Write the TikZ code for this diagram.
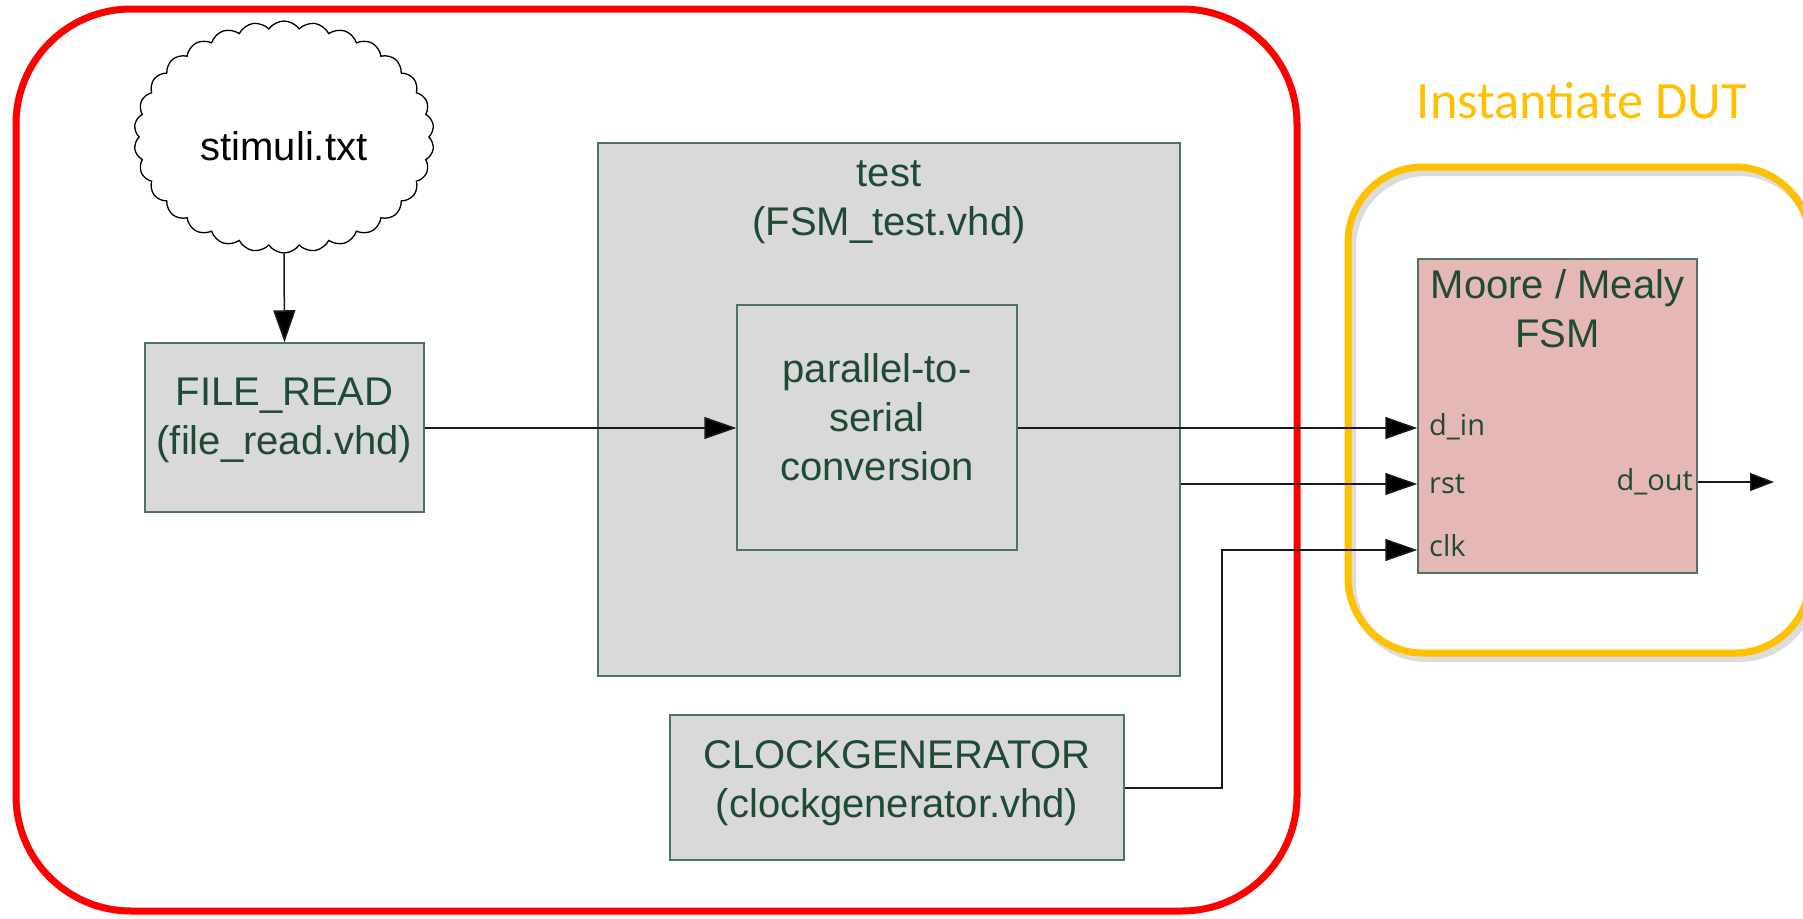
\documentclass[tikz,border=0pt]{standalone}
\usepackage{fontspec}
\setmainfont{Liberation Sans}
\newfontfamily\calfont{Carlito}
\newfontfamily\portfont{Open Sans}
\usetikzlibrary{shapes.symbols,arrows.meta}
\definecolor{txtgreen}{HTML}{1F4A36}
\definecolor{boxedge}{HTML}{4E7360}
\definecolor{boxfill}{HTML}{D9D9D9}
\definecolor{fsmfill}{HTML}{E5B8B5}
\definecolor{dutyellow}{HTML}{FFC000}
\definecolor{wire}{HTML}{1A1A1A}
\tikzset{
  x=1pt, y=1pt,
  blk/.style={draw=boxedge, line width=1.5pt, fill=boxfill, inner sep=0pt, text=txtgreen,
    align=center, font=\fontsize{40}{49}\selectfont},
  lbl/.style={inner sep=0pt, text=txtgreen, align=center, font=\fontsize{40}{49}\selectfont},
  port/.style={inner sep=0pt, text=txtgreen, font=\portfont\fontsize{29}{32}\selectfont},
  conn/.style={draw=wire, line width=1.5pt, -{Triangle[length=32pt,width=22pt,fill=black]}},
  plainconn/.style={draw=wire, line width=1.5pt},
}
\begin{document}
\begin{tikzpicture}
\useasboundingbox (0,0) rectangle (1803,-918);
% outer frames
\draw[red, line width=7pt, rounded corners=115pt] (16,-9) rectangle (1297,-911);
\draw[black!45, opacity=0.3, line width=8pt, rounded corners=75pt] (1352,-172) rectangle (1814,-658);
\draw[dutyellow, line width=7pt, rounded corners=75pt] (1348,-167) rectangle (1810,-653);
\node[inner sep=0pt, text=dutyellow, font=\calfont\fontsize{52.5}{60}\selectfont] (dut) at (1582,-101) {Instantiate DUT};

% cloud
\node[cloud, cloud puffs=30, cloud puff arc=110, aspect=1.4, draw=black, line width=1.3pt, fill=white,
  minimum width=300pt, minimum height=232pt, inner sep=0pt] (cloud) at (284,-137) {};
\node[inner sep=0pt, font=\fontsize{40}{49}\selectfont] (cloudlbl) at (284,-146) {stimuli.txt};

% blocks
\node[blk, minimum width=279pt, minimum height=169pt] (fr) at (284.5,-427.5) {};
\node[lbl] (frlbl) at (284.5,-420) {FILE\_READ\\(file\_read.vhd)};
\node[blk, minimum width=582pt, minimum height=533pt] (test) at (889,-409.5) {};
\node[lbl] (testlbl) at (889,-202) {test\\(FSM\_test.vhd)};
\node[blk, minimum width=280pt, minimum height=245pt] (pts) at (877,-427.5) {};
\node[lbl] (ptslbl) at (877,-417) {parallel-to-\\serial\\conversion};
\node[blk, minimum width=454pt, minimum height=145pt] (clock) at (897,-787.5) {};
\node[lbl] (clocklbl) at (897,-783) {CLOCKGENERATOR\\(clockgenerator.vhd)};
\node[blk, fill=fsmfill, minimum width=279pt, minimum height=314pt] (fsm) at (1557.5,-416) {};
\node[lbl] (fsmlbl) at (1557.5,-309) {Moore / Mealy\\FSM};

% ports
\node[port, anchor=west] (pdin) at (1429,-427) {d\_in};
\node[port, anchor=west] (prst) at (1429,-484) {rst};
\node[port, anchor=west] (pclk) at (1429,-546) {clk};
\node[port, anchor=east] (pdout) at (1693,-482) {d\_out};

% connector end points
\coordinate (ptsin) at (pts.west |- 0,-428);
\coordinate (frout) at (fr.east |- 0,-428);
\coordinate (dinend) at (fsm.west |- 0,-428);
\coordinate (ptsout) at (pts.east |- 0,-428);
\coordinate (rststart) at (test.east |- 0,-484);
\coordinate (rstend) at (fsm.west |- 0,-484);
\coordinate (clkstart) at (clock.east |- 0,-788);
\coordinate (clkbend1) at (1222,-788);
\coordinate (clkbend2) at (1222,-550);
\coordinate (clkend) at (fsm.west |- 0,-550);
\coordinate (doutstart) at (fsm.east |- 0,-482);
\coordinate (doutend) at (1774,-482);

% connectors
\draw[conn] (cloud.south) -- (fr.north);
\draw[conn] (frout) -- (ptsin);
\draw[conn] (ptsout) -- (dinend);
\draw[conn] (rststart) -- (rstend);
\draw[conn] (clkstart) -- (clkbend1) -- (clkbend2) -- (clkend);
\draw[plainconn, -{Triangle[length=24pt,width=18pt,fill=black]}] (doutstart) -- (doutend);
\end{tikzpicture}
\end{document}
